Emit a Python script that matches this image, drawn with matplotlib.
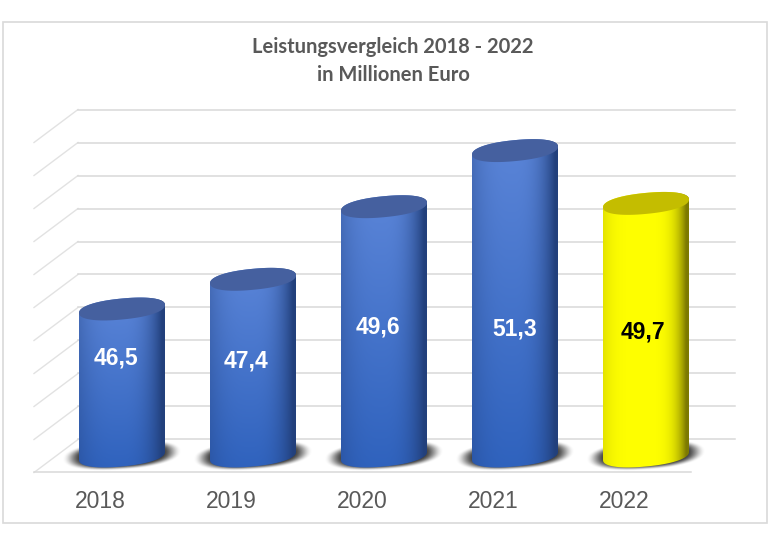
import numpy as np
import matplotlib
matplotlib.use('Agg')
import matplotlib.pyplot as plt
from matplotlib.colors import to_rgb
from matplotlib.patches import Polygon, Rectangle

# Daten
jahre = ['2018', '2019', '2020', '2021', '2022']
werte = [46.5, 47.4, 49.6, 51.3, 49.7]
werte_text = ['46,5', '47,4', '49,6', '51,3', '49,7']
stufen = [42, 43, 44, 45, 46, 47, 48, 49, 50, 51, 52]
titel = 'Leistungsvergleich 2018 - 2022\nin Millionen Euro'

# Skalen: 131 px je Kategorie, 33 px je Million
px_x = 131.0
px_y = 33.0
x0 = 122.0
y0 = 456.0
B, H = 768, 550

fig = plt.figure(figsize=(B/100, H/100), dpi=100)
ax = fig.add_axes([0, 0, 1, 1])
ax.axis('off')

def px(x):
    return x/px_x

def py(y):
    return y/px_y

# Rahmen
ax.add_patch(Rectangle((px(2.5-x0), 42+py(y0-523)), px(764.5), py(501), fill=False,
                       edgecolor='#d9d9d9', linewidth=1.2, zorder=1))

# Gitter (Rueckwand und linke Seite)
tiefe_x = px(22)
tiefe_y = py(16.5)
links = px(-66)
rechts = px(591)
for s in stufen:
    ax.plot([links-tiefe_x, links+tiefe_x], [s-tiefe_y, s+tiefe_y], color='#e2e2e2', lw=1.0, zorder=2)
    ax.plot([links+tiefe_x, rechts+tiefe_x], [s+tiefe_y, s+tiefe_y], color='#d9d9d9', lw=1.1, zorder=2)
ax.plot([links-tiefe_x, rechts-tiefe_x], [42-tiefe_y, 42-tiefe_y], color='#d9d9d9', lw=1.1, zorder=2)

# Saeulen
a = px(43)
b = py(10.5)
kipp = py(4)

def ellipse(cx, cy, t):
    # etwas eckiger als eine echte Ellipse
    c = np.sign(np.cos(t))*np.abs(np.cos(t))**0.9
    s = np.sign(np.sin(t))*np.abs(np.sin(t))**0.9
    return cx+a*c, cy+b*s+kipp*c

def verlauf(farbe_mitte, farbe_rand, farbe_unten, hart, w=120, h=200):
    # Zylinder: in der Mitte hell, am Rand dunkel
    u = np.linspace(-1, 1, w)+0.06
    s = np.where(u < 0, 0.72*np.abs(u), np.abs(u))
    s = np.clip(s, 0, 1)**hart
    s = s[None, :, None]
    v = np.linspace(0, 1, h)[:, None, None]
    mitte = np.array(to_rgb(farbe_mitte))*(1-v)+np.array(to_rgb(farbe_unten))*v
    return mitte*(1-s)+np.array(to_rgb(farbe_rand))*s

farben = [('#5b85d8', '#22407c', '#2f62bd', '#45609f', 2.8)]*4+[('#ffff00', '#7d7a00', '#ffff00', '#c4bd00', 4.0)]

for i, w in enumerate(werte):
    mitte, rand, unten, deckel, hart = farben[i]
    oben = w-py(1.5)

    # Schatten
    xs = np.linspace(i-px(70), i+px(70), 160)
    ys = np.linspace(42-py(40), 42+py(40), 90)
    X, Y = np.meshgrid(xs, ys)
    U = (X-i)/px(60)
    V = (Y-42-py(1)-kipp*U)/py(15)
    r = (np.abs(U)**2.3+np.abs(V)**2.3)**(1/2.3)
    al = np.clip((1.0-r)/0.32, 0, 1)
    al = al*al*(3-2*al)
    rgba = np.zeros(X.shape+(4,))
    rgba[..., :3] = 0.2
    rgba[..., 3] = al*0.95
    ax.imshow(rgba, extent=(xs[0], xs[-1], ys[0], ys[-1]), origin='lower', aspect='auto', zorder=3)

    # Mantel
    t_o = np.linspace(0, np.pi, 60)
    t_u = np.linspace(np.pi, 2*np.pi, 60)
    xo, yo = ellipse(i, oben, t_o)
    xu, yu = ellipse(i, 42, t_u)
    pts = np.column_stack([np.r_[xo, xu], np.r_[yo, yu]])
    clip = Polygon(pts, closed=True, transform=ax.transData, facecolor='none', edgecolor='none')
    ax.add_patch(clip)
    bild = ax.imshow(verlauf(mitte, rand, unten, hart), extent=(i-a, i+a, 42-py(15), oben+py(15)),
                     origin='upper', aspect='auto', zorder=4, interpolation='bilinear')
    bild.set_clip_path(clip)

    # Deckel
    t = np.linspace(0, 2*np.pi, 120)
    xd, yd = ellipse(i, oben, t)
    ax.fill(xd, yd, color=deckel, lw=0, zorder=5)

# Beschriftung
for i, txt in enumerate(jahre):
    ax.text(i-tiefe_x, 42-py(45), txt, ha='center', va='center', fontsize=16.5,
            family='Liberation Sans', color='#595959', zorder=6)

wert_dx = [-6, -7, -6, 0, -3]
wert_dy = [358, 361, 327, 329, 332]
for i, txt in enumerate(werte_text):
    f = 'black' if i == 4 else 'white'
    ax.text(i+px(wert_dx[i]), 42+py(y0-wert_dy[i]), txt, ha='center', va='center', fontsize=16.5,
            family='Liberation Sans', fontweight='bold', color=f, zorder=6)

ax.text(px(393-x0), 42+py(y0-61), titel, ha='center', va='center', fontsize=14.5, family='Lato',
        fontweight='bold', color='#595959', linespacing=1.5, zorder=6)

ax.set_xlim(-x0/px_x, (B-x0)/px_x)
ax.set_ylim(42-(H-y0)/px_y, 42+y0/px_y)
fig.savefig('out.png', dpi=100)
